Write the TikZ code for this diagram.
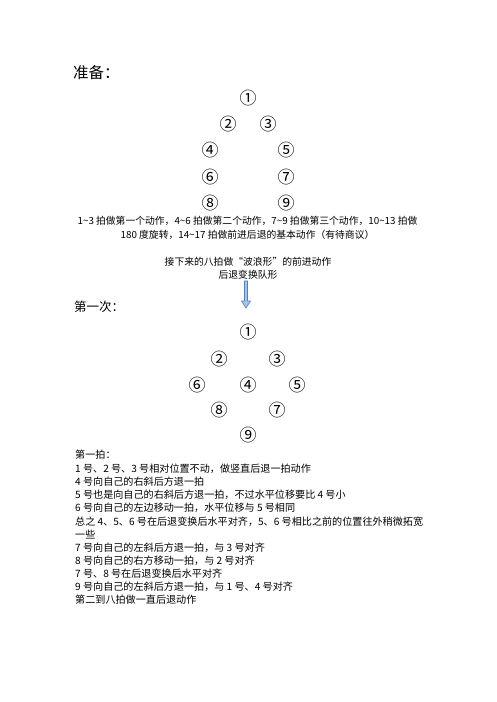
\documentclass[tikz,border=0pt]{standalone}
\usepackage{fontspec}
\setmainfont{Noto Sans CJK SC}
\begin{document}
\begin{tikzpicture}[x=1pt,y=-1pt,
  num/.style={inner sep=0pt,font=\fontsize{17}{17}\selectfont},
  head/.style={inner sep=0pt,anchor=west},
  body/.style={inner sep=0pt,anchor=west,font=\fontsize{10.1}{11}\selectfont},
  ctext/.style={inner sep=0pt,font=\fontsize{9.8}{11}\selectfont}]
\useasboundingbox[fill=white] (0,0) rectangle (496,702);
% heading 1
\node[head,font=\fontsize{15.5}{16}\selectfont] (h1) at (73,73) {准备：};
% formation 1
\node[num] (a1) at (248,98) {①};
\node[num] (a2) at (228,124) {②};
\node[num] (a3) at (268,124) {③};
\node[num] (a4) at (210,150) {④};
\node[num] (a5) at (286,150) {⑤};
\node[num] (a6) at (210,177) {⑥};
\node[num] (a7) at (286,177) {⑦};
\node[num] (a8) at (210,203) {⑧};
\node[num] (a9) at (286,203) {⑨};
% description
\node[ctext] (t1) at (247.5,221) {1\textasciitilde3 拍做第一个动作，4\textasciitilde6 拍做第二个动作，7\textasciitilde9 拍做第三个动作，10\textasciitilde13 拍做};
\node[ctext] (t2) at (247.5,235) {180 度旋转，14\textasciitilde17 拍做前进后退的基本动作（有待商议）};
\node[ctext] (t3) at (248,262) {接下来的八拍做“波浪形”的前进动作};
\node[ctext] (t4) at (248,274.5) {后退变换队形};
% arrow
\draw[draw={rgb,255:red,79;green,129;blue,189},fill={rgb,255:red,168;green,195;blue,230},line width=0.6pt]
  (244.5,281) -- (247.5,281) -- (247.5,301) -- (250.5,301) -- (246,308) -- (241.5,301) -- (244.5,301) -- cycle;
% heading 2
\node[head,font=\fontsize{12.5}{13}\selectfont] (h2) at (74,307) {第一次：};
% formation 2
\node[num] (b1) at (248,332) {①};
\node[num] (b2) at (219,359) {②};
\node[num] (b3) at (277,359) {③};
\node[num] (b6) at (197,385) {⑥};
\node[num] (b4) at (248,385) {④};
\node[num] (b5) at (297,385) {⑤};
\node[num] (b8) at (219,410) {⑧};
\node[num] (b7) at (277,410) {⑦};
\node[num] (b9) at (248,435) {⑨};
% body
\node[body] (l1) at (75,455) {第一拍：};
\node[body] (l2) at (75,469) {1 号、2 号、3 号相对位置不动，做竖直后退一拍动作};
\node[body] (l3) at (75,482) {4 号向自己的右斜后方退一拍};
\node[body] (l4) at (75,495) {5 号也是向自己的右斜后方退一拍，不过水平位移要比 4 号小};
\node[body] (l5) at (75,508) {6 号向自己的左边移动一拍，水平位移与 5 号相同};
\node[body] (l6) at (75,521.5) {总之 4、5、6 号在后退变换后水平对齐，5、6 号相比之前的位置往外稍微拓宽};
\node[body] (l7) at (75,535) {一些};
\node[body] (l8) at (75,548) {7 号向自己的左斜后方退一拍，与 3 号对齐};
\node[body] (l9) at (75,561) {8 号向自己的右方移动一拍，与 2 号对齐};
\node[body] (l10) at (75,574) {7 号、8 号在后退变换后水平对齐};
\node[body] (l11) at (75,587) {9 号向自己的左斜后方退一拍，与 1 号、4 号对齐};
\node[body] (l12) at (75,600) {第二到八拍做一直后退动作};
\end{tikzpicture}
\end{document}
